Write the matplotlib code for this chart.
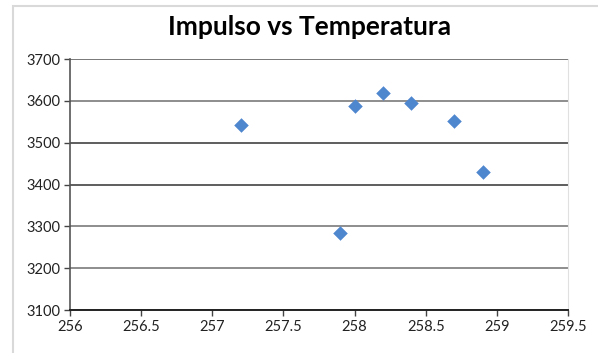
import matplotlib.pyplot as plt
from matplotlib.patches import Rectangle

# Datos
temperatura = [257.2, 258.0, 258.2, 258.4, 258.7, 258.9, 257.9]
impulso = [3542, 3588, 3618, 3596, 3552, 3430, 3285]

x_ticks = [256, 256.5, 257, 257.5, 258, 258.5, 259, 259.5]
x_labels = ['256', '256.5', '257', '257.5', '258', '258.5', '259', '259.5']
y_ticks = [3100, 3200, 3300, 3400, 3500, 3600, 3700]

plt.rcParams['font.family'] = ['Lato', 'DejaVu Sans']

fig = plt.figure(figsize=(5.98, 3.53), dpi=100)
fig.patch.set_facecolor('white')

# Borde del área del gráfico (sale por la derecha y por abajo)
fig.patches.append(Rectangle((13 / 598, -10 / 353), 600 / 598, 357 / 353,
                             transform=fig.transFigure, fill=False,
                             edgecolor='#d9d9d9', linewidth=1.5))

ax = fig.add_axes([70 / 598, 1 - 310 / 353, 498 / 598, 251 / 353])
ax.scatter(temperatura, impulso, marker='D', s=55, color='#4F87CF',
           zorder=3, linewidths=0)

ax.set_xlim(256, 259.5)
ax.set_ylim(3100, 3700)
ax.set_xticks(x_ticks)
ax.set_xticklabels(x_labels)
ax.set_yticks(y_ticks)

ax.grid(axis='y', color='#858585', linewidth=1.3, zorder=0)
ax.grid(axis='x', visible=False)
# líneas 3400 y 3500 más oscuras en la imagen original
for linea, valor in zip(ax.get_ygridlines(), y_ticks):
    if valor in (3400, 3500):
        linea.set_color('#505050')

ax.spines['top'].set_visible(False)
ax.spines['right'].set_color('#e0e0e0')
ax.spines['left'].set_color('#555555')
ax.spines['bottom'].set_color('#222222')
ax.spines['left'].set_linewidth(1.2)
ax.spines['bottom'].set_linewidth(1.4)
ax.axhline(3700, color='#222222', linewidth=1.4, zorder=1)

ax.tick_params(axis='both', direction='out', length=4, width=1,
               color='#444444', labelsize=10.5, labelcolor='#222222', pad=3)

fig.text(310 / 598, 1 - 27 / 353, 'Impulso vs Temperatura', ha='center',
         va='center', fontsize=19, fontweight='bold', color='black')

plt.savefig('out.png', dpi=100)
plt.close()
